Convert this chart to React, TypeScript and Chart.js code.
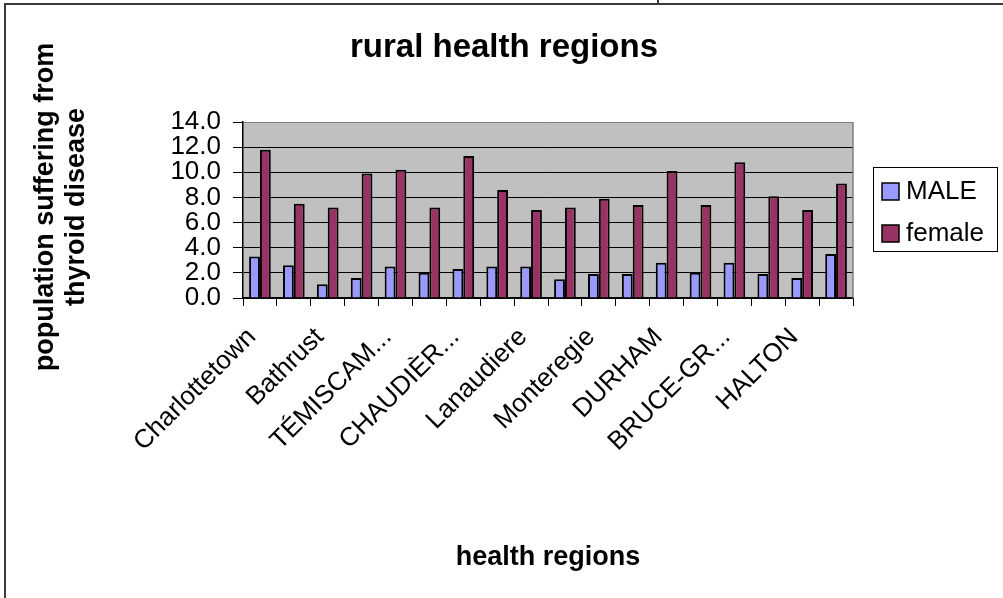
import React, { useEffect, useRef } from "react";
import { Chart, registerables } from "chart.js";

Chart.register(...registerables);

const categories = [
  "Charlottetown", "", "Bathrust", "", "TÉMISCAM...", "", "CHAUDIÈR...", "",
  "Lanaudiere", "", "Monteregie", "", "DURHAM", "", "BRUCE-GR...", "", "HALTON", "",
];
const maleValues = [3.3, 2.6, 1.1, 1.6, 2.5, 2.0, 2.3, 2.5, 2.5, 1.5, 1.9, 1.9, 2.8, 2.0, 2.8, 1.9, 1.6, 3.5];
const femaleValues = [11.8, 7.5, 7.2, 9.9, 10.2, 7.2, 11.3, 8.6, 7.0, 7.2, 7.9, 7.4, 10.1, 7.4, 10.8, 8.1, 7.0, 9.1];
const seriesNames = ["MALE", "female"];
const seriesColors = ["#9999FF", "#993366"];
const titleText = "rural health regions";
const yTitleLines = ["population suffering from", "thyroid disease"];
const xTitleText = "health regions";

const FONT = "'Liberation Sans', Arial, Helvetica, sans-serif";

const decorPlugin = {
  id: "decor",
  beforeDraw(chart: any) {
    const { ctx, chartArea } = chart;
    ctx.save();
    ctx.fillStyle = "#ffffff";
    ctx.fillRect(0, 0, chart.width, chart.height);
    ctx.fillStyle = "#C0C0C0";
    ctx.fillRect(chartArea.left, chartArea.top, chartArea.right - chartArea.left, chartArea.bottom - chartArea.top);
    ctx.restore();
  },
  afterDraw(chart: any) {
    const { ctx, chartArea } = chart;
    ctx.save();
    // plot area right border
    ctx.strokeStyle = "#808080";
    ctx.lineWidth = 1.5;
    ctx.beginPath();
    ctx.moveTo(chartArea.right, chartArea.top);
    ctx.lineTo(chartArea.right, chartArea.bottom);
    ctx.stroke();

    // outer frame
    ctx.strokeStyle = "#3a3a3a";
    ctx.lineWidth = 2;
    ctx.beginPath();
    ctx.moveTo(5, 598);
    ctx.lineTo(5, 4);
    ctx.lineTo(1003, 4);
    ctx.moveTo(658, 0);
    ctx.lineTo(658, 4);
    ctx.stroke();

    // title
    ctx.fillStyle = "#000";
    ctx.textAlign = "center";
    ctx.textBaseline = "alphabetic";
    ctx.font = `bold 33px ${FONT}`;
    ctx.fillText(titleText, 504, 57);

    // x title
    ctx.font = `bold 27px ${FONT}`;
    ctx.fillText(xTitleText, 548, 565);

    // y title
    ctx.save();
    ctx.translate(46, 207);
    ctx.rotate(-Math.PI / 2);
    ctx.textBaseline = "middle";
    ctx.fillText(yTitleLines[0], 0, 0);
    ctx.fillText(yTitleLines[1], 0, 31);
    ctx.restore();

    // legend
    ctx.fillStyle = "#fff";
    ctx.fillRect(873, 167, 124, 84);
    ctx.strokeStyle = "#000";
    ctx.lineWidth = 1;
    ctx.strokeRect(873.5, 167.5, 124, 84);
    const ys = [191, 233];
    chart.data.datasets.forEach((ds: any, i: number) => {
      ctx.fillStyle = ds.backgroundColor;
      ctx.fillRect(882, ys[i] - 8, 17, 17);
      ctx.strokeStyle = "#000";
      ctx.lineWidth = 1.5;
      ctx.strokeRect(882, ys[i] - 8, 17, 17);
      ctx.fillStyle = "#000";
      ctx.font = `26px ${FONT}`;
      ctx.textAlign = "left";
      ctx.textBaseline = "middle";
      ctx.fillText(ds.label, 906, ys[i] + 1);
    });
    ctx.restore();
  },
};

export default function App() {
  const ref = useRef<HTMLCanvasElement | null>(null);
  useEffect(() => {
    document.body.style.margin = "0";
    const canvas = ref.current!;
    const chart = new Chart(canvas, {
      type: "bar",
      data: {
        labels: categories,
        datasets: [
          {
            label: seriesNames[0],
            data: maleValues,
            backgroundColor: seriesColors[0],
            borderColor: "#000",
            borderWidth: 2,
            categoryPercentage: 0.64,
            barPercentage: 1,
          },
          {
            label: seriesNames[1],
            data: femaleValues,
            backgroundColor: seriesColors[1],
            borderColor: "#000",
            borderWidth: 2,
            categoryPercentage: 0.64,
            barPercentage: 1,
          },
        ],
      },
      options: {
        responsive: false,
        animation: false,
        devicePixelRatio: 1,
        layout: { padding: { left: 0, top: 122, right: 150, bottom: 0 } },
        plugins: {
          legend: { display: false },
          title: { display: false },
          tooltip: { enabled: false },
        },
        scales: {
          x: {
            afterFit(scale: any) {
              scale.height = 300;
            },
            grid: {
              display: true,
              drawOnChartArea: false,
              drawTicks: true,
              tickLength: 8,
              color: "#000",
              offset: true,
            },
            border: { display: true, color: "#000", width: 1.5 },
            ticks: {
              autoSkip: false,
              maxRotation: 45,
              minRotation: 45,
              padding: 16,
              labelOffset: -8,
              color: "#000",
              font: { family: FONT, size: 26 },
              callback: (_v: any, i: number) => categories[i],
            },
          },
          y: {
            min: 0,
            max: 14,
            afterFit(scale: any) {
              scale.width = 243;
            },
            grid: {
              color: (c: any) => (c.tick && c.tick.value === 14 ? "#808080" : "#000"),
              tickColor: "#000",
              tickLength: 10,
              lineWidth: 1,
            },
            border: { display: true, color: "#000", width: 1.5 },
            ticks: {
              stepSize: 2,
              autoSkip: false,
              padding: 12,
              color: "#000",
              font: { family: FONT, size: 26 },
              callback: (v: any) => Number(v).toFixed(1),
            },
          },
        },
      },
      plugins: [decorPlugin],
    });
    return () => chart.destroy();
  }, []);
  return (
    <div style={{ width: 1003, height: 598 }}>
      <canvas ref={ref} width={1003} height={598} style={{ display: "block" }} />
    </div>
  );
}
